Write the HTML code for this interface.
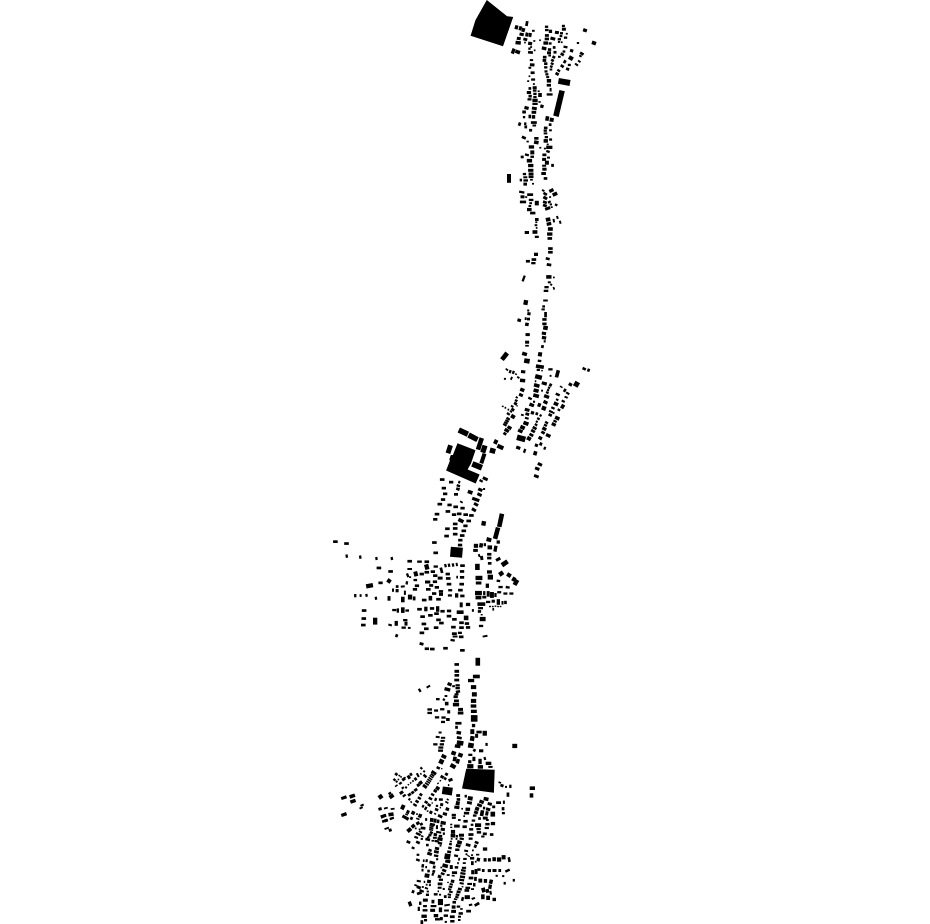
<!DOCTYPE html>
<html><head><meta charset="utf-8"><title>Map</title>
<style>html,body{margin:0;padding:0;background:#fff;font-family:"Liberation Sans",sans-serif}svg{display:block}</style></head>
<body><svg width="930" height="924" viewBox="0 0 930 924" fill="#000">
<polygon points="486.8,0.0 507.1,16.2 513.2,17.0 503.0,46.3 470.6,35.7 475.4,20.3"/>
<polygon points="457.5,443.2 475.5,450.3 470.9,463.7 468.8,467.2 467.7,469.5 479.6,474.5 475.7,483.6 446.1,470.6 449.9,460.7 449.3,459.4 450.8,454.9 452.9,454.9"/>
<polygon points="466.2,768.8 494.7,769.8 493.9,792.8 462.0,788.5"/>
<rect x="525.5" y="21.1" width="2.7" height="4.9" transform="rotate(10 526.9 23.5)"/>
<rect x="514.8" y="25.3" width="3.3" height="4.0" transform="rotate(15 516.5 27.3)"/>
<rect x="518.9" y="26.4" width="3.0" height="4.0" transform="rotate(15 520.4 28.4)"/>
<rect x="521.7" y="28.0" width="3.3" height="4.0" transform="rotate(15 523.3 30.0)"/>
<rect x="532.0" y="29.8" width="2.7" height="2.0"/>
<rect x="519.5" y="32.9" width="4.3" height="3.0" transform="rotate(10 521.7 34.4)"/>
<rect x="525.4" y="32.6" width="3.0" height="4.0" transform="rotate(10 526.9 34.6)"/>
<rect x="528.6" y="32.9" width="3.0" height="4.0" transform="rotate(10 530.1 34.9)"/>
<rect x="516.8" y="37.0" width="4.0" height="3.0" transform="rotate(10 518.8 38.5)"/>
<rect x="523.3" y="37.9" width="4.0" height="3.0" transform="rotate(15 525.3 39.4)"/>
<rect x="515.5" y="41.0" width="5.3" height="3.6" transform="rotate(5 518.1 42.9)"/>
<rect x="524.1" y="41.7" width="1.7" height="1.7"/>
<rect x="528.1" y="41.8" width="4.0" height="3.3" transform="rotate(10 530.1 43.5)"/>
<rect x="533.3" y="40.1" width="2.0" height="1.7"/>
<rect x="539.2" y="39.4" width="1.7" height="1.7"/>
<rect x="530.1" y="46.2" width="2.0" height="1.7"/>
<rect x="511.6" y="48.5" width="3.3" height="5.3" transform="rotate(20 513.2 51.1)"/>
<rect x="515.2" y="50.1" width="4.9" height="3.6" transform="rotate(20 517.6 51.9)"/>
<rect x="528.3" y="47.5" width="2.3" height="2.3"/>
<rect x="528.0" y="51.1" width="4.9" height="2.7" transform="rotate(5 530.5 52.4)"/>
<rect x="533.8" y="49.5" width="1.7" height="1.7"/>
<rect x="529.8" y="59.1" width="3.3" height="2.0"/>
<rect x="529.9" y="63.4" width="4.6" height="3.0" transform="rotate(5 532.2 64.9)"/>
<rect x="528.5" y="66.8" width="2.7" height="2.0"/>
<rect x="530.6" y="71.4" width="4.0" height="2.7"/>
<rect x="528.6" y="75.4" width="1.7" height="1.7"/>
<rect x="531.1" y="78.4" width="4.0" height="2.3"/>
<rect x="527.2" y="80.3" width="2.0" height="1.7"/>
<rect x="532.9" y="83.2" width="2.0" height="1.7"/>
<rect x="544.9" y="25.6" width="3.3" height="2.3"/>
<rect x="545.0" y="28.9" width="3.6" height="2.3"/>
<rect x="548.8" y="29.7" width="3.3" height="3.3"/>
<rect x="544.9" y="34.1" width="4.0" height="2.7"/>
<rect x="544.7" y="37.6" width="4.3" height="2.7"/>
<rect x="550.4" y="37.0" width="4.9" height="3.3" transform="rotate(15 552.9 38.6)"/>
<rect x="543.4" y="41.4" width="4.6" height="3.3"/>
<rect x="548.6" y="42.3" width="3.0" height="2.3"/>
<rect x="541.8" y="46.7" width="4.6" height="3.3" transform="rotate(10 544.1 48.4)"/>
<rect x="547.9" y="48.2" width="3.3" height="2.7"/>
<rect x="552.8" y="46.1" width="2.7" height="2.7"/>
<rect x="547.0" y="51.3" width="4.0" height="3.0"/>
<rect x="553.5" y="50.9" width="3.0" height="2.7"/>
<rect x="548.3" y="54.5" width="2.7" height="2.0"/>
<rect x="542.9" y="55.8" width="3.6" height="2.7"/>
<rect x="542.6" y="58.9" width="3.6" height="3.0"/>
<rect x="544.1" y="62.3" width="3.3" height="2.7"/>
<rect x="552.3" y="55.8" width="3.0" height="2.7" transform="rotate(30 553.8 57.1)"/>
<rect x="551.0" y="59.1" width="3.0" height="2.7" transform="rotate(30 552.5 60.4)"/>
<rect x="550.7" y="62.5" width="3.0" height="2.3" transform="rotate(30 552.2 63.6)"/>
<rect x="549.9" y="65.4" width="2.7" height="2.3" transform="rotate(30 551.2 66.6)"/>
<rect x="549.6" y="68.5" width="2.7" height="2.0"/>
<rect x="544.1" y="66.2" width="3.3" height="2.3"/>
<rect x="544.5" y="70.3" width="3.0" height="2.3"/>
<rect x="545.4" y="73.2" width="3.0" height="2.3"/>
<rect x="546.2" y="76.1" width="3.0" height="2.0"/>
<rect x="546.8" y="79.0" width="4.3" height="3.6"/>
<rect x="546.7" y="83.9" width="4.3" height="2.7"/>
<rect x="549.6" y="87.9" width="2.0" height="3.6"/>
<rect x="546.7" y="93.3" width="5.9" height="2.3"/>
<rect x="561.9" y="24.8" width="3.0" height="2.3"/>
<rect x="561.9" y="27.7" width="4.0" height="3.0"/>
<rect x="554.9" y="31.0" width="4.0" height="3.0" transform="rotate(10 556.9 32.5)"/>
<rect x="560.0" y="32.1" width="3.0" height="2.3"/>
<rect x="565.8" y="32.9" width="2.0" height="1.7"/>
<rect x="559.6" y="34.9" width="2.7" height="2.3"/>
<rect x="563.9" y="36.5" width="3.3" height="2.3"/>
<rect x="557.7" y="38.1" width="3.3" height="2.3"/>
<rect x="557.9" y="40.9" width="2.3" height="2.0"/>
<rect x="560.9" y="41.4" width="1.7" height="1.7"/>
<rect x="563.5" y="45.9" width="4.0" height="2.3" transform="rotate(10 565.5 47.1)"/>
<rect x="570.0" y="49.2" width="3.3" height="3.0" transform="rotate(20 571.7 50.6)"/>
<rect x="562.6" y="50.4" width="2.7" height="2.3"/>
<rect x="560.4" y="53.0" width="3.6" height="2.7" transform="rotate(30 562.3 54.4)"/>
<rect x="558.0" y="55.8" width="2.7" height="2.0"/>
<rect x="568.6" y="56.1" width="4.6" height="4.0" transform="rotate(30 570.9 58.1)"/>
<rect x="563.4" y="60.0" width="2.7" height="3.3" transform="rotate(30 564.7 61.7)"/>
<rect x="560.4" y="64.9" width="3.6" height="2.7" transform="rotate(35 562.3 66.2)"/>
<rect x="567.8" y="63.8" width="3.0" height="2.3"/>
<rect x="566.0" y="67.7" width="3.3" height="2.7" transform="rotate(20 567.6 69.0)"/>
<rect x="557.0" y="69.4" width="3.3" height="2.3" transform="rotate(35 558.7 70.6)"/>
<rect x="555.3" y="72.5" width="3.6" height="2.7" transform="rotate(30 557.1 73.9)"/>
<rect x="583.0" y="28.7" width="4.0" height="3.3" transform="rotate(20 585.0 30.4)"/>
<rect x="591.8" y="41.2" width="4.3" height="3.6" transform="rotate(20 593.9 43.0)"/>
<rect x="576.8" y="42.0" width="2.3" height="2.0"/>
<rect x="579.8" y="52.2" width="4.0" height="2.7" transform="rotate(30 581.8 53.6)"/>
<rect x="579.1" y="55.0" width="2.7" height="2.0" transform="rotate(30 580.5 56.0)"/>
<rect x="577.8" y="60.4" width="3.0" height="2.0" transform="rotate(35 579.3 61.4)"/>
<rect x="574.7" y="63.6" width="3.6" height="2.0" transform="rotate(35 576.6 64.6)"/>
<rect x="558.3" y="79.0" width="11.8" height="5.9" transform="rotate(10 564.2 82.0)"/>
<rect x="556.2" y="90.2" width="5.6" height="26.4" transform="rotate(13.5 559.0 103.4)"/>
<rect x="528.5" y="87.1" width="2.7" height="2.7"/>
<rect x="532.7" y="86.2" width="4.0" height="3.0"/>
<rect x="532.9" y="89.4" width="3.6" height="2.3"/>
<rect x="537.7" y="90.4" width="2.0" height="1.7"/>
<rect x="526.8" y="91.0" width="4.3" height="3.0"/>
<rect x="533.3" y="92.7" width="3.3" height="2.3"/>
<rect x="538.2" y="93.0" width="3.6" height="4.0"/>
<rect x="528.5" y="94.8" width="3.3" height="2.7"/>
<rect x="527.5" y="98.2" width="4.0" height="2.3"/>
<rect x="533.3" y="95.9" width="3.3" height="2.3"/>
<rect x="532.4" y="98.7" width="5.3" height="3.3"/>
<rect x="538.4" y="101.1" width="2.3" height="1.7"/>
<rect x="532.4" y="102.7" width="5.3" height="2.3"/>
<rect x="540.3" y="104.7" width="3.3" height="3.3" transform="rotate(15 542.0 106.3)"/>
<rect x="524.4" y="106.3" width="4.3" height="3.3" transform="rotate(15 526.6 108.0)"/>
<rect x="531.9" y="106.9" width="4.9" height="3.0" transform="rotate(10 534.4 108.4)"/>
<rect x="522.3" y="110.5" width="3.6" height="3.0"/>
<rect x="531.6" y="110.8" width="4.6" height="3.0"/>
<rect x="522.9" y="116.0" width="2.3" height="2.3"/>
<rect x="528.5" y="114.7" width="2.7" height="3.6"/>
<rect x="531.9" y="115.1" width="3.3" height="3.6"/>
<rect x="518.2" y="122.5" width="2.7" height="3.3" transform="rotate(20 519.6 124.2)"/>
<rect x="524.1" y="122.4" width="2.3" height="2.7"/>
<rect x="524.4" y="125.4" width="2.7" height="3.0"/>
<rect x="530.9" y="121.2" width="5.9" height="2.7"/>
<rect x="532.5" y="124.5" width="3.6" height="2.0"/>
<rect x="529.1" y="128.9" width="3.0" height="2.7"/>
<rect x="521.7" y="136.2" width="4.3" height="2.7" transform="rotate(25 523.8 137.5)"/>
<rect x="526.5" y="140.7" width="2.3" height="1.7"/>
<rect x="534.2" y="137.0" width="4.3" height="2.7"/>
<rect x="534.0" y="140.5" width="4.6" height="3.6" transform="rotate(10 536.3 142.4)"/>
<rect x="528.8" y="145.3" width="5.3" height="3.3"/>
<rect x="539.3" y="146.9" width="2.0" height="1.7"/>
<rect x="545.4" y="116.2" width="3.6" height="4.6" transform="rotate(10 547.2 118.5)"/>
<rect x="549.7" y="117.8" width="4.0" height="4.0" transform="rotate(10 551.7 119.8)"/>
<rect x="548.8" y="123.3" width="2.7" height="2.7"/>
<rect x="543.9" y="126.6" width="3.6" height="2.7"/>
<rect x="543.6" y="129.5" width="3.3" height="2.3"/>
<rect x="549.1" y="129.3" width="2.7" height="2.0"/>
<rect x="543.7" y="132.4" width="3.6" height="2.0"/>
<rect x="544.7" y="136.0" width="3.3" height="2.3"/>
<rect x="543.6" y="139.1" width="4.3" height="3.6"/>
<rect x="549.1" y="138.4" width="3.0" height="2.3"/>
<rect x="546.7" y="143.6" width="2.0" height="1.7"/>
<rect x="546.2" y="145.7" width="6.2" height="3.3"/>
<rect x="543.9" y="147.7" width="2.0" height="1.7"/>
<rect x="530.3" y="150.4" width="4.0" height="4.0"/>
<rect x="530.4" y="155.6" width="3.6" height="2.3"/>
<rect x="524.9" y="153.7" width="4.0" height="2.3" transform="rotate(15 526.9 154.9)"/>
<rect x="520.7" y="155.6" width="3.0" height="2.7"/>
<rect x="526.8" y="158.9" width="5.3" height="3.6"/>
<rect x="528.1" y="163.9" width="5.3" height="3.3"/>
<rect x="528.1" y="168.8" width="5.3" height="3.0"/>
<rect x="528.6" y="172.5" width="4.9" height="2.7"/>
<rect x="528.6" y="175.4" width="4.9" height="2.7"/>
<rect x="530.1" y="178.9" width="2.7" height="1.7"/>
<rect x="522.8" y="172.9" width="3.3" height="2.3"/>
<rect x="519.7" y="178.7" width="2.3" height="2.7"/>
<rect x="523.3" y="176.3" width="4.0" height="2.0"/>
<rect x="523.4" y="179.3" width="4.6" height="2.3"/>
<rect x="523.4" y="182.6" width="3.6" height="3.0"/>
<rect x="532.0" y="182.9" width="2.0" height="1.7"/>
<rect x="507.0" y="174.0" width="4.0" height="8.8"/>
<rect x="546.2" y="150.4" width="3.6" height="2.3" transform="rotate(20 548.0 151.6)"/>
<rect x="542.4" y="153.5" width="4.0" height="2.7"/>
<rect x="547.0" y="156.6" width="3.0" height="2.0"/>
<rect x="542.1" y="157.9" width="4.0" height="3.0"/>
<rect x="544.9" y="160.7" width="4.0" height="4.0"/>
<rect x="542.1" y="164.7" width="4.0" height="2.0"/>
<rect x="551.2" y="163.9" width="2.7" height="3.0"/>
<rect x="542.3" y="167.7" width="4.3" height="3.0"/>
<rect x="541.3" y="172.0" width="4.6" height="3.0"/>
<rect x="543.7" y="177.1" width="3.6" height="2.7"/>
<rect x="519.1" y="191.0" width="5.3" height="2.3" transform="rotate(10 521.7 192.2)"/>
<rect x="527.2" y="193.3" width="5.9" height="2.7"/>
<rect x="520.5" y="195.3" width="4.0" height="3.0"/>
<rect x="525.2" y="196.2" width="2.0" height="1.7"/>
<rect x="519.9" y="200.6" width="6.2" height="2.7"/>
<rect x="528.8" y="198.8" width="4.6" height="2.3"/>
<rect x="529.3" y="202.2" width="2.7" height="2.0"/>
<rect x="534.8" y="200.8" width="4.0" height="4.6"/>
<rect x="528.5" y="205.0" width="2.7" height="2.0"/>
<rect x="527.0" y="207.9" width="4.6" height="3.3"/>
<rect x="530.1" y="211.7" width="5.3" height="2.7"/>
<rect x="541.9" y="189.6" width="2.7" height="2.0" transform="rotate(30 543.3 190.6)"/>
<rect x="549.1" y="188.9" width="4.6" height="3.3" transform="rotate(-25 551.4 190.6)"/>
<rect x="552.5" y="192.3" width="4.9" height="3.6" transform="rotate(-25 555.0 194.2)"/>
<rect x="543.2" y="192.5" width="4.0" height="2.7" transform="rotate(30 545.2 193.8)"/>
<rect x="543.1" y="196.4" width="4.3" height="3.0" transform="rotate(30 545.2 197.9)"/>
<rect x="549.1" y="196.2" width="2.0" height="1.7"/>
<rect x="542.9" y="200.9" width="4.0" height="2.7" transform="rotate(20 544.9 202.3)"/>
<rect x="547.8" y="200.8" width="3.0" height="2.3" transform="rotate(-30 549.3 201.9)"/>
<rect x="542.9" y="204.2" width="4.0" height="2.7" transform="rotate(20 544.9 205.5)"/>
<rect x="549.7" y="203.4" width="2.3" height="2.0"/>
<rect x="554.8" y="203.7" width="2.7" height="2.3" transform="rotate(30 556.1 204.9)"/>
<rect x="545.0" y="206.9" width="5.3" height="3.0" transform="rotate(-20 547.7 208.4)"/>
<rect x="550.7" y="206.3" width="2.0" height="1.7"/>
<rect x="535.0" y="218.0" width="3.6" height="3.0"/>
<rect x="535.3" y="221.4" width="2.0" height="1.7"/>
<rect x="534.6" y="224.2" width="2.7" height="2.0"/>
<rect x="535.8" y="227.1" width="1.7" height="1.7"/>
<rect x="524.7" y="231.0" width="4.3" height="3.0"/>
<rect x="532.5" y="230.2" width="4.9" height="3.6"/>
<rect x="534.8" y="235.7" width="4.0" height="2.3"/>
<rect x="545.8" y="217.5" width="4.6" height="4.0" transform="rotate(-10 548.1 219.5)"/>
<rect x="546.7" y="222.2" width="4.6" height="3.3" transform="rotate(-10 549.0 223.9)"/>
<rect x="552.8" y="218.8" width="2.0" height="3.6" transform="rotate(-10 553.8 220.6)"/>
<rect x="556.4" y="215.9" width="2.0" height="3.0" transform="rotate(-20 557.4 217.4)"/>
<rect x="559.2" y="220.6" width="2.0" height="3.3" transform="rotate(-15 560.2 222.2)"/>
<rect x="547.9" y="227.2" width="4.9" height="3.6"/>
<rect x="547.1" y="232.4" width="5.3" height="3.3"/>
<rect x="547.5" y="237.1" width="4.6" height="2.7"/>
<rect x="548.1" y="247.2" width="4.6" height="2.7"/>
<rect x="548.1" y="250.9" width="4.6" height="2.7"/>
<rect x="534.0" y="252.7" width="4.0" height="3.3"/>
<rect x="531.6" y="258.2" width="4.6" height="2.7"/>
<rect x="525.9" y="259.9" width="4.0" height="2.7"/>
<rect x="531.2" y="262.0" width="4.3" height="2.3"/>
<rect x="545.7" y="257.4" width="4.0" height="2.7" transform="rotate(15 547.7 258.8)"/>
<rect x="546.7" y="263.4" width="4.6" height="2.7" transform="rotate(10 549.0 264.8)"/>
<rect x="522.5" y="275.4" width="2.3" height="6.2" transform="rotate(20 523.6 278.6)"/>
<rect x="546.2" y="275.1" width="5.3" height="3.6"/>
<rect x="553.0" y="276.6" width="1.7" height="1.7"/>
<rect x="547.8" y="281.3" width="3.0" height="2.0"/>
<rect x="550.2" y="283.7" width="2.0" height="2.0" transform="rotate(30 551.2 284.7)"/>
<rect x="553.0" y="287.0" width="1.7" height="2.7" transform="rotate(-20 553.8 288.3)"/>
<rect x="544.4" y="286.0" width="4.3" height="2.3"/>
<rect x="543.7" y="289.7" width="4.6" height="2.3"/>
<rect x="523.6" y="300.0" width="4.3" height="4.9" transform="rotate(10 525.7 302.4)"/>
<rect x="543.2" y="299.5" width="4.6" height="2.0"/>
<rect x="542.3" y="305.3" width="2.7" height="2.3"/>
<rect x="541.5" y="308.4" width="3.3" height="2.0"/>
<rect x="527.2" y="309.5" width="2.0" height="2.0"/>
<rect x="527.3" y="312.3" width="3.3" height="3.0" transform="rotate(10 529.0 313.8)"/>
<rect x="544.2" y="312.0" width="2.7" height="5.3"/>
<rect x="517.4" y="318.8" width="3.6" height="3.0" transform="rotate(15 519.3 320.3)"/>
<rect x="524.7" y="317.3" width="2.0" height="2.7"/>
<rect x="527.0" y="317.7" width="3.0" height="2.7"/>
<rect x="525.1" y="322.7" width="3.6" height="3.3" transform="rotate(10 526.9 324.4)"/>
<rect x="542.3" y="318.1" width="4.3" height="2.7"/>
<rect x="542.3" y="322.5" width="4.3" height="2.7"/>
<rect x="543.2" y="325.9" width="4.6" height="4.0" transform="rotate(10 545.6 327.9)"/>
<rect x="525.5" y="333.1" width="4.3" height="3.0"/>
<rect x="541.8" y="331.8" width="4.3" height="3.0" transform="rotate(10 543.9 333.3)"/>
<rect x="541.9" y="336.0" width="4.3" height="3.3" transform="rotate(10 544.1 337.7)"/>
<rect x="543.7" y="340.2" width="2.0" height="2.3"/>
<rect x="525.1" y="340.7" width="4.0" height="3.0"/>
<rect x="525.2" y="344.9" width="3.6" height="1.7"/>
<rect x="541.1" y="345.1" width="2.7" height="3.0" transform="rotate(10 542.5 346.6)"/>
<rect x="502.3" y="352.1" width="4.6" height="8.5" transform="rotate(38 504.6 356.3)"/>
<rect x="522.1" y="352.2" width="4.9" height="3.6" transform="rotate(15 524.6 354.1)"/>
<rect x="524.1" y="358.6" width="5.6" height="4.6" transform="rotate(10 526.9 360.9)"/>
<rect x="538.0" y="352.2" width="4.0" height="4.3" transform="rotate(10 540.0 354.4)"/>
<rect x="537.7" y="359.7" width="3.6" height="2.3" transform="rotate(10 539.5 360.9)"/>
<rect x="439.9" y="478.2" width="4.6" height="2.7"/>
<rect x="449.0" y="480.8" width="4.3" height="2.7"/>
<rect x="458.2" y="480.8" width="2.0" height="2.7" transform="rotate(20 459.3 482.2)"/>
<rect x="456.6" y="484.6" width="3.6" height="2.3" transform="rotate(20 458.4 485.7)"/>
<rect x="456.1" y="487.7" width="3.6" height="2.7" transform="rotate(20 458.0 489.0)"/>
<rect x="441.7" y="486.8" width="4.3" height="2.7"/>
<rect x="443.0" y="492.5" width="4.3" height="2.7"/>
<rect x="454.0" y="493.0" width="4.0" height="2.7"/>
<rect x="467.7" y="490.4" width="4.9" height="3.6" transform="rotate(20 470.1 492.2)"/>
<rect x="440.9" y="498.2" width="4.3" height="2.7"/>
<rect x="437.5" y="502.8" width="4.6" height="2.7"/>
<rect x="447.4" y="503.6" width="4.3" height="2.7"/>
<rect x="453.4" y="505.5" width="4.6" height="2.7"/>
<rect x="460.4" y="506.8" width="4.3" height="2.7"/>
<rect x="459.9" y="501.1" width="3.0" height="1.7" transform="rotate(30 461.4 502.0)"/>
<rect x="482.6" y="477.3" width="5.3" height="3.0" transform="rotate(25 485.2 478.8)"/>
<rect x="479.3" y="479.7" width="3.6" height="2.3" transform="rotate(30 481.2 480.9)"/>
<rect x="478.0" y="488.3" width="4.6" height="3.0" transform="rotate(25 480.4 489.8)"/>
<rect x="483.1" y="488.0" width="2.0" height="2.0"/>
<rect x="477.2" y="493.2" width="4.6" height="3.0" transform="rotate(25 479.5 494.7)"/>
<rect x="472.0" y="497.9" width="7.5" height="3.3" transform="rotate(20 475.8 499.5)"/>
<rect x="473.7" y="502.9" width="4.6" height="3.0" transform="rotate(30 476.0 504.4)"/>
<rect x="471.6" y="508.3" width="4.6" height="3.0" transform="rotate(30 473.9 509.8)"/>
<rect x="445.6" y="510.1" width="4.6" height="2.7"/>
<rect x="451.9" y="513.3" width="4.3" height="2.7"/>
<rect x="456.9" y="512.5" width="4.6" height="2.7"/>
<rect x="463.4" y="513.3" width="4.6" height="2.7"/>
<rect x="469.1" y="514.1" width="4.6" height="2.7"/>
<rect x="434.7" y="512.8" width="4.6" height="2.7"/>
<rect x="433.1" y="518.0" width="4.3" height="2.7"/>
<rect x="458.1" y="518.8" width="5.6" height="3.6" transform="rotate(25 460.9 520.6)"/>
<rect x="466.4" y="519.6" width="4.6" height="2.7"/>
<rect x="452.9" y="522.6" width="4.6" height="2.7"/>
<rect x="463.3" y="524.5" width="4.3" height="2.7"/>
<rect x="452.9" y="527.1" width="4.6" height="2.7"/>
<rect x="461.5" y="529.5" width="4.6" height="2.7"/>
<rect x="445.1" y="527.4" width="4.6" height="2.7"/>
<rect x="452.9" y="532.8" width="4.6" height="2.7"/>
<rect x="459.9" y="534.2" width="4.6" height="2.7"/>
<rect x="444.3" y="534.7" width="4.6" height="2.7"/>
<rect x="458.2" y="538.8" width="4.3" height="2.7"/>
<rect x="457.9" y="543.7" width="4.3" height="2.7"/>
<rect x="432.1" y="541.2" width="4.6" height="2.7"/>
<rect x="433.4" y="551.5" width="4.6" height="2.7"/>
<rect x="481.5" y="521.1" width="4.3" height="4.6" transform="rotate(10 483.6 523.4)"/>
<rect x="498.3" y="513.6" width="4.6" height="13.4" transform="rotate(12 500.6 520.3)"/>
<rect x="494.3" y="527.3" width="4.6" height="11.8" transform="rotate(15 496.6 533.1)"/>
<rect x="450.4" y="547.2" width="12.1" height="10.1" transform="rotate(5 456.5 552.3)"/>
<rect x="486.5" y="537.7" width="4.9" height="4.0" transform="rotate(15 489.0 539.6)"/>
<rect x="496.6" y="540.4" width="3.3" height="3.3"/>
<rect x="473.8" y="543.8" width="4.3" height="4.0"/>
<rect x="479.3" y="543.2" width="3.6" height="4.3" transform="rotate(10 481.2 545.3)"/>
<rect x="483.7" y="543.2" width="2.3" height="3.0"/>
<rect x="487.5" y="545.4" width="4.6" height="4.0"/>
<rect x="493.8" y="545.8" width="3.3" height="5.9" transform="rotate(10 495.5 548.7)"/>
<rect x="473.2" y="548.9" width="4.6" height="3.0"/>
<rect x="487.1" y="552.9" width="4.3" height="2.7"/>
<rect x="478.2" y="554.1" width="2.0" height="3.0" transform="rotate(-20 479.2 555.6)"/>
<rect x="480.2" y="556.0" width="3.0" height="4.0" transform="rotate(-10 481.7 558.0)"/>
<rect x="487.1" y="556.7" width="4.3" height="2.7"/>
<rect x="495.7" y="557.8" width="4.9" height="3.0" transform="rotate(-30 498.2 559.3)"/>
<rect x="501.3" y="561.0" width="6.9" height="4.6" transform="rotate(-35 504.7 563.3)"/>
<rect x="487.9" y="562.0" width="3.6" height="2.7"/>
<rect x="475.1" y="563.8" width="4.6" height="6.2"/>
<rect x="407.4" y="559.9" width="4.6" height="2.7"/>
<rect x="417.2" y="560.5" width="4.6" height="2.3"/>
<rect x="424.5" y="560.4" width="4.6" height="2.7"/>
<rect x="424.6" y="564.3" width="4.3" height="5.3" transform="rotate(-15 426.8 566.9)"/>
<rect x="433.6" y="565.4" width="4.3" height="2.3"/>
<rect x="407.4" y="568.0" width="4.6" height="2.0"/>
<rect x="444.3" y="564.0" width="2.3" height="3.3" transform="rotate(-15 445.5 565.6)"/>
<rect x="447.9" y="563.6" width="2.3" height="3.3" transform="rotate(-10 449.0 565.3)"/>
<rect x="451.9" y="563.3" width="2.3" height="3.3" transform="rotate(-10 453.1 565.0)"/>
<rect x="455.8" y="562.8" width="2.0" height="3.3" transform="rotate(-10 456.8 564.5)"/>
<rect x="460.2" y="564.3" width="4.6" height="2.7"/>
<rect x="523.5" y="448.9" width="2.3" height="4.0" transform="rotate(20 524.7 450.8)"/>
<rect x="533.4" y="451.1" width="3.6" height="4.3" transform="rotate(15 535.2 453.3)"/>
<rect x="537.6" y="462.8" width="4.6" height="3.0" transform="rotate(25 539.9 464.3)"/>
<rect x="534.9" y="467.2" width="4.6" height="3.0" transform="rotate(20 537.2 468.7)"/>
<rect x="533.9" y="474.8" width="4.9" height="3.0" transform="rotate(20 536.4 476.3)"/>
<rect x="333.1" y="540.3" width="4.6" height="2.7"/>
<rect x="344.2" y="542.2" width="4.6" height="2.7"/>
<rect x="345.6" y="554.5" width="2.3" height="3.3" transform="rotate(-10 346.8 556.2)"/>
<rect x="359.1" y="555.4" width="2.3" height="3.3" transform="rotate(-10 360.3 557.0)"/>
<rect x="375.3" y="557.0" width="2.3" height="3.0" transform="rotate(-10 376.5 558.5)"/>
<rect x="390.7" y="557.0" width="2.3" height="3.0" transform="rotate(-10 391.9 558.5)"/>
<rect x="376.6" y="566.6" width="4.6" height="2.7"/>
<rect x="388.3" y="570.1" width="4.6" height="2.7"/>
<rect x="366.1" y="583.6" width="6.9" height="4.3" transform="rotate(-10 369.5 585.7)"/>
<rect x="378.4" y="581.5" width="4.3" height="2.7"/>
<rect x="387.0" y="578.9" width="4.0" height="4.0" transform="rotate(35 389.0 580.9)"/>
<rect x="354.1" y="594.0" width="2.3" height="3.3"/>
<rect x="359.6" y="594.2" width="2.0" height="2.7"/>
<rect x="365.4" y="593.8" width="2.3" height="3.0" transform="rotate(-10 366.6 595.3)"/>
<rect x="374.8" y="596.7" width="2.3" height="3.0" transform="rotate(-10 376.0 598.2)"/>
<rect x="387.5" y="596.1" width="3.0" height="4.6"/>
<rect x="361.8" y="609.2" width="4.6" height="2.7"/>
<rect x="361.5" y="617.2" width="4.6" height="2.7"/>
<rect x="361.0" y="623.7" width="4.6" height="2.7"/>
<rect x="373.0" y="617.7" width="4.3" height="6.9"/>
<rect x="388.3" y="624.0" width="3.6" height="2.0" transform="rotate(15 390.1 625.0)"/>
<rect x="394.6" y="620.9" width="3.3" height="4.9"/>
<rect x="395.3" y="634.2" width="2.7" height="3.0" transform="rotate(20 396.6 635.7)"/>
<rect x="406.5" y="573.2" width="2.3" height="4.0" transform="rotate(-20 407.7 575.2)"/>
<rect x="409.1" y="576.3" width="2.0" height="1.7"/>
<rect x="413.8" y="571.4" width="4.0" height="4.9" transform="rotate(-15 415.8 573.9)"/>
<rect x="419.6" y="572.7" width="4.3" height="2.7"/>
<rect x="413.5" y="578.9" width="3.6" height="2.3"/>
<rect x="405.7" y="581.2" width="2.3" height="3.3" transform="rotate(10 406.9 582.8)"/>
<rect x="414.8" y="584.4" width="4.3" height="2.7"/>
<rect x="412.8" y="588.0" width="4.3" height="2.7"/>
<rect x="400.8" y="585.5" width="4.0" height="2.0" transform="rotate(-10 402.8 586.6)"/>
<rect x="395.8" y="585.2" width="2.7" height="2.7"/>
<rect x="392.0" y="588.5" width="2.0" height="3.3"/>
<rect x="395.6" y="589.0" width="3.0" height="3.3"/>
<rect x="403.9" y="590.6" width="2.0" height="4.3"/>
<rect x="407.9" y="594.6" width="4.3" height="4.9"/>
<rect x="412.8" y="596.4" width="2.7" height="4.0"/>
<rect x="401.0" y="596.7" width="3.6" height="5.6"/>
<rect x="392.2" y="608.9" width="4.3" height="2.3"/>
<rect x="396.7" y="608.4" width="2.3" height="4.3"/>
<rect x="401.0" y="607.3" width="3.6" height="5.6"/>
<rect x="405.4" y="609.4" width="3.6" height="2.3"/>
<rect x="403.1" y="619.0" width="4.3" height="2.3"/>
<rect x="404.5" y="621.6" width="3.0" height="4.0"/>
<rect x="401.5" y="626.5" width="4.3" height="2.3"/>
<rect x="407.9" y="626.9" width="2.7" height="2.0"/>
<rect x="440.1" y="567.5" width="2.7" height="5.6" transform="rotate(-15 441.4 570.3)"/>
<rect x="424.5" y="570.9" width="4.6" height="2.7"/>
<rect x="430.7" y="570.3" width="4.3" height="2.7"/>
<rect x="433.1" y="574.3" width="4.3" height="2.7"/>
<rect x="437.7" y="576.6" width="4.9" height="3.0"/>
<rect x="445.6" y="572.7" width="4.3" height="2.7"/>
<rect x="445.9" y="577.1" width="4.6" height="2.7"/>
<rect x="459.9" y="570.1" width="4.3" height="2.7"/>
<rect x="459.9" y="576.0" width="4.3" height="2.7"/>
<rect x="456.3" y="575.8" width="1.7" height="2.7"/>
<rect x="425.0" y="580.5" width="5.3" height="3.0"/>
<rect x="432.8" y="580.4" width="4.3" height="2.7"/>
<rect x="429.2" y="584.1" width="4.0" height="2.7"/>
<rect x="434.7" y="586.0" width="4.3" height="2.7"/>
<rect x="426.0" y="588.0" width="4.6" height="2.7"/>
<rect x="446.7" y="582.8" width="4.6" height="2.7"/>
<rect x="459.4" y="582.8" width="4.6" height="2.7"/>
<rect x="438.8" y="590.1" width="4.3" height="2.7"/>
<rect x="439.0" y="592.9" width="4.0" height="3.0"/>
<rect x="432.0" y="592.2" width="4.3" height="2.7"/>
<rect x="448.2" y="589.1" width="4.0" height="2.3"/>
<rect x="458.1" y="588.8" width="4.6" height="2.7"/>
<rect x="447.9" y="594.3" width="4.0" height="2.3"/>
<rect x="455.0" y="593.3" width="3.3" height="4.3"/>
<rect x="460.2" y="594.6" width="4.3" height="2.7"/>
<rect x="428.6" y="595.9" width="3.6" height="4.6"/>
<rect x="421.9" y="598.7" width="4.6" height="2.7"/>
<rect x="436.2" y="597.9" width="4.6" height="2.7"/>
<rect x="417.2" y="607.9" width="4.6" height="2.7"/>
<rect x="424.2" y="606.7" width="3.3" height="4.6"/>
<rect x="429.9" y="607.1" width="4.3" height="2.7"/>
<rect x="436.0" y="606.2" width="3.3" height="5.6"/>
<rect x="440.4" y="609.9" width="4.3" height="2.7"/>
<rect x="434.2" y="612.3" width="4.6" height="2.7"/>
<rect x="446.9" y="609.6" width="4.3" height="2.7"/>
<rect x="420.3" y="615.3" width="4.6" height="2.7"/>
<rect x="428.1" y="614.0" width="4.6" height="2.7"/>
<rect x="446.7" y="614.8" width="4.6" height="2.7"/>
<rect x="436.2" y="618.5" width="4.6" height="2.7"/>
<rect x="452.1" y="618.0" width="4.6" height="2.7"/>
<rect x="439.1" y="621.7" width="4.6" height="2.7"/>
<rect x="421.6" y="622.6" width="4.6" height="2.7"/>
<rect x="424.0" y="627.4" width="4.6" height="2.7"/>
<rect x="433.8" y="626.3" width="4.6" height="2.7"/>
<rect x="419.6" y="631.5" width="4.6" height="2.7"/>
<rect x="459.7" y="602.4" width="3.0" height="4.9"/>
<rect x="465.9" y="602.8" width="4.3" height="3.3"/>
<rect x="456.7" y="610.4" width="6.9" height="3.6"/>
<rect x="463.8" y="615.6" width="4.6" height="4.6"/>
<rect x="459.2" y="621.4" width="4.6" height="2.7"/>
<rect x="464.8" y="622.2" width="4.3" height="2.7"/>
<rect x="451.1" y="625.8" width="4.6" height="2.7"/>
<rect x="459.2" y="626.3" width="4.6" height="2.7"/>
<rect x="465.9" y="626.1" width="4.3" height="2.7"/>
<rect x="451.9" y="632.3" width="4.9" height="2.7"/>
<rect x="457.9" y="631.7" width="4.0" height="2.3"/>
<rect x="452.6" y="635.5" width="4.9" height="2.0"/>
<rect x="458.9" y="635.5" width="4.6" height="2.7"/>
<rect x="450.5" y="639.0" width="4.3" height="2.3" transform="rotate(10 452.6 640.1)"/>
<rect x="419.5" y="642.5" width="4.0" height="2.7" transform="rotate(15 421.5 643.9)"/>
<rect x="424.7" y="647.4" width="4.3" height="2.7"/>
<rect x="430.0" y="647.7" width="4.6" height="2.7"/>
<rect x="443.2" y="646.9" width="4.6" height="2.7"/>
<rect x="460.1" y="649.0" width="4.6" height="2.7"/>
<rect x="454.4" y="663.1" width="4.6" height="2.7"/>
<rect x="487.0" y="570.3" width="4.9" height="3.3"/>
<rect x="487.7" y="574.7" width="5.3" height="4.9"/>
<rect x="498.9" y="571.4" width="4.6" height="4.3" transform="rotate(-35 501.2 573.6)"/>
<rect x="506.8" y="573.2" width="4.3" height="4.0" transform="rotate(30 509.0 575.2)"/>
<rect x="512.0" y="577.1" width="3.6" height="4.3" transform="rotate(30 513.8 579.3)"/>
<rect x="513.8" y="579.5" width="4.3" height="5.9" transform="rotate(30 515.9 582.5)"/>
<rect x="475.5" y="575.8" width="6.9" height="4.3"/>
<rect x="475.8" y="581.5" width="5.6" height="3.0"/>
<rect x="496.6" y="579.7" width="3.6" height="2.3" transform="rotate(10 498.4 580.9)"/>
<rect x="485.7" y="583.6" width="3.3" height="4.3"/>
<rect x="498.4" y="585.9" width="4.3" height="2.3"/>
<rect x="505.7" y="586.2" width="4.0" height="2.3" transform="rotate(10 507.7 587.4)"/>
<rect x="475.0" y="590.9" width="6.9" height="4.3"/>
<rect x="483.1" y="591.1" width="2.3" height="4.0"/>
<rect x="486.7" y="591.1" width="3.0" height="5.6"/>
<rect x="489.9" y="592.0" width="4.0" height="5.9"/>
<rect x="494.3" y="593.0" width="2.3" height="4.0"/>
<rect x="497.2" y="591.1" width="4.0" height="2.3"/>
<rect x="503.4" y="592.4" width="4.0" height="2.3"/>
<rect x="509.4" y="592.4" width="4.0" height="2.3"/>
<rect x="475.5" y="595.8" width="5.9" height="3.6"/>
<rect x="482.3" y="595.8" width="4.0" height="2.7"/>
<rect x="477.4" y="602.3" width="7.9" height="3.6"/>
<rect x="486.0" y="600.8" width="4.3" height="2.3"/>
<rect x="491.6" y="599.7" width="3.3" height="3.0"/>
<rect x="496.7" y="599.2" width="3.3" height="5.6"/>
<rect x="501.5" y="601.0" width="2.0" height="3.6"/>
<rect x="504.1" y="600.8" width="2.7" height="3.3"/>
<rect x="489.0" y="605.8" width="2.0" height="1.4"/>
<rect x="491.9" y="605.8" width="1.7" height="1.4"/>
<rect x="494.6" y="605.5" width="1.7" height="1.4"/>
<rect x="497.2" y="605.8" width="1.7" height="1.4"/>
<rect x="499.7" y="605.8" width="1.7" height="1.4"/>
<rect x="492.4" y="607.9" width="1.7" height="2.7"/>
<rect x="478.1" y="607.0" width="4.9" height="2.3"/>
<rect x="477.8" y="610.1" width="3.3" height="2.7"/>
<rect x="471.9" y="609.1" width="2.0" height="2.7"/>
<rect x="480.7" y="614.0" width="2.0" height="1.4"/>
<rect x="479.7" y="616.9" width="5.9" height="4.3"/>
<rect x="478.9" y="624.8" width="4.3" height="2.3"/>
<rect x="482.6" y="635.2" width="4.9" height="2.0" transform="rotate(-10 485.1 636.2)"/>
<rect x="475.5" y="657.8" width="4.6" height="7.9"/>
<rect x="454.5" y="669.8" width="4.6" height="3.0"/>
<rect x="454.5" y="674.0" width="4.6" height="2.7"/>
<rect x="454.3" y="678.7" width="4.9" height="2.7"/>
<rect x="447.4" y="682.6" width="4.3" height="3.3" transform="rotate(20 449.5 684.3)"/>
<rect x="452.2" y="685.2" width="2.7" height="2.0"/>
<rect x="455.5" y="684.2" width="4.3" height="2.3"/>
<rect x="444.4" y="687.8" width="5.9" height="3.3" transform="rotate(15 447.4 689.5)"/>
<rect x="455.5" y="687.0" width="4.3" height="2.3"/>
<rect x="455.8" y="690.3" width="4.3" height="2.7" transform="rotate(-10 458.0 691.6)"/>
<rect x="454.5" y="693.2" width="4.0" height="2.3" transform="rotate(-10 456.5 694.4)"/>
<rect x="453.5" y="695.4" width="4.3" height="2.7"/>
<rect x="454.0" y="699.5" width="4.9" height="2.7"/>
<rect x="452.9" y="702.8" width="6.2" height="3.6"/>
<rect x="444.6" y="695.0" width="2.7" height="2.0"/>
<rect x="442.7" y="698.5" width="2.3" height="2.3" transform="rotate(30 443.8 699.7)"/>
<rect x="436.0" y="698.0" width="3.6" height="2.3"/>
<rect x="444.9" y="701.8" width="3.6" height="3.6"/>
<rect x="458.1" y="707.9" width="4.9" height="3.0"/>
<rect x="457.8" y="711.5" width="5.6" height="3.0"/>
<rect x="427.4" y="708.3" width="4.6" height="2.3"/>
<rect x="427.4" y="711.8" width="4.6" height="2.3"/>
<rect x="434.1" y="709.4" width="4.0" height="2.3"/>
<rect x="440.1" y="708.1" width="4.3" height="2.3"/>
<rect x="447.2" y="710.2" width="3.0" height="3.3"/>
<rect x="434.9" y="716.2" width="4.3" height="2.3"/>
<rect x="441.4" y="716.4" width="4.3" height="2.3"/>
<rect x="446.1" y="718.0" width="3.6" height="3.0"/>
<rect x="441.0" y="720.8" width="4.0" height="2.3"/>
<rect x="455.3" y="721.9" width="6.2" height="2.7"/>
<rect x="455.2" y="725.8" width="2.7" height="3.0"/>
<rect x="456.5" y="731.2" width="4.6" height="3.3" transform="rotate(10 458.8 732.8)"/>
<rect x="456.8" y="736.5" width="4.9" height="2.7" transform="rotate(10 459.3 737.9)"/>
<rect x="456.8" y="740.7" width="6.6" height="4.6" transform="rotate(10 460.1 743.1)"/>
<rect x="454.8" y="744.6" width="5.6" height="3.3" transform="rotate(10 457.6 746.3)"/>
<rect x="438.6" y="731.5" width="3.0" height="2.0"/>
<rect x="435.7" y="736.0" width="4.0" height="2.0" transform="rotate(10 437.7 737.0)"/>
<rect x="440.9" y="736.8" width="4.3" height="2.0"/>
<rect x="440.4" y="739.9" width="4.3" height="2.0"/>
<rect x="433.2" y="743.2" width="4.3" height="2.3"/>
<rect x="439.7" y="743.2" width="4.3" height="2.3"/>
<rect x="438.4" y="746.4" width="4.9" height="2.3"/>
<rect x="438.1" y="749.5" width="4.9" height="2.3"/>
<rect x="451.3" y="751.1" width="4.6" height="4.0" transform="rotate(20 453.6 753.1)"/>
<rect x="458.1" y="753.2" width="4.6" height="4.0" transform="rotate(20 460.4 755.2)"/>
<rect x="452.9" y="756.7" width="3.6" height="4.6" transform="rotate(10 454.7 759.0)"/>
<rect x="441.4" y="754.7" width="4.9" height="3.6" transform="rotate(25 443.8 756.5)"/>
<rect x="472.9" y="674.7" width="6.9" height="3.6"/>
<rect x="468.0" y="678.9" width="6.2" height="3.3"/>
<rect x="470.9" y="685.1" width="5.3" height="4.0"/>
<rect x="471.9" y="692.2" width="4.9" height="4.3"/>
<rect x="470.9" y="698.9" width="5.3" height="4.0"/>
<rect x="470.7" y="704.4" width="5.6" height="3.3"/>
<rect x="470.9" y="709.7" width="5.9" height="3.3"/>
<rect x="470.9" y="715.1" width="6.6" height="6.6"/>
<rect x="471.9" y="723.9" width="3.3" height="3.3"/>
<rect x="470.3" y="729.2" width="4.0" height="4.9"/>
<rect x="476.4" y="730.7" width="5.3" height="2.7"/>
<rect x="482.6" y="730.8" width="4.3" height="4.9"/>
<rect x="475.1" y="733.8" width="3.0" height="4.0"/>
<rect x="470.1" y="736.2" width="4.3" height="4.6" transform="rotate(10 472.2 738.5)"/>
<rect x="468.1" y="743.0" width="5.6" height="4.9" transform="rotate(10 470.9 745.5)"/>
<rect x="485.4" y="742.9" width="2.3" height="3.0"/>
<rect x="473.0" y="749.0" width="2.7" height="2.7" transform="rotate(30 474.4 750.4)"/>
<rect x="479.0" y="749.3" width="4.3" height="3.0"/>
<rect x="468.3" y="753.7" width="4.0" height="2.3"/>
<rect x="472.4" y="756.8" width="3.0" height="4.3"/>
<rect x="483.7" y="757.0" width="2.3" height="3.0" transform="rotate(-15 484.9 758.5)"/>
<rect x="468.1" y="760.2" width="3.3" height="3.0"/>
<rect x="478.4" y="758.8" width="3.3" height="5.3"/>
<rect x="485.7" y="761.7" width="5.6" height="3.3"/>
<rect x="467.2" y="764.1" width="6.2" height="4.3"/>
<rect x="477.7" y="765.1" width="5.3" height="3.6"/>
<rect x="488.3" y="765.9" width="4.3" height="2.0"/>
<rect x="512.3" y="743.8" width="4.9" height="4.3"/>
<rect x="498.5" y="781.7" width="2.7" height="1.7" transform="rotate(20 499.8 782.5)"/>
<rect x="500.3" y="784.2" width="3.3" height="2.7" transform="rotate(20 501.9 785.6)"/>
<rect x="505.0" y="785.9" width="2.0" height="2.0"/>
<rect x="509.2" y="784.7" width="2.3" height="3.3"/>
<rect x="506.6" y="792.5" width="2.7" height="4.3"/>
<rect x="529.7" y="786.4" width="5.3" height="3.6"/>
<rect x="529.7" y="793.3" width="3.6" height="4.3"/>
<rect x="496.1" y="801.3" width="4.9" height="2.7"/>
<rect x="502.9" y="800.6" width="2.0" height="3.3"/>
<rect x="501.7" y="807.1" width="2.7" height="3.3"/>
<rect x="501.9" y="812.0" width="3.0" height="2.3"/>
<rect x="461.3" y="807.9" width="1.7" height="1.7"/>
<rect x="464.6" y="794.8" width="2.3" height="2.7"/>
<rect x="467.8" y="796.3" width="4.9" height="4.0" transform="rotate(10 470.3 798.2)"/>
<rect x="467.0" y="801.3" width="4.9" height="3.0" transform="rotate(10 469.5 802.8)"/>
<rect x="465.5" y="807.6" width="4.6" height="3.3"/>
<rect x="463.9" y="811.8" width="5.3" height="2.7"/>
<rect x="463.3" y="815.3" width="1.7" height="1.7"/>
<rect x="483.6" y="797.2" width="4.9" height="3.6" transform="rotate(10 486.0 799.1)"/>
<rect x="479.3" y="800.2" width="4.6" height="3.3" transform="rotate(20 481.7 801.8)"/>
<rect x="477.1" y="803.7" width="4.9" height="3.0" transform="rotate(20 479.5 805.2)"/>
<rect x="475.1" y="807.0" width="4.0" height="3.6" transform="rotate(20 477.1 808.8)"/>
<rect x="474.0" y="810.9" width="4.0" height="3.0" transform="rotate(20 476.0 812.4)"/>
<rect x="472.9" y="814.4" width="3.6" height="2.3"/>
<rect x="487.6" y="802.4" width="4.3" height="3.0" transform="rotate(15 489.8 803.9)"/>
<rect x="492.2" y="805.5" width="3.0" height="2.7"/>
<rect x="486.0" y="807.8" width="4.3" height="3.0" transform="rotate(15 488.1 809.3)"/>
<rect x="482.9" y="806.7" width="2.3" height="2.7"/>
<rect x="480.2" y="810.2" width="3.6" height="5.9" transform="rotate(10 482.0 813.2)"/>
<rect x="485.4" y="811.2" width="3.0" height="4.3" transform="rotate(10 486.9 813.3)"/>
<rect x="490.5" y="811.7" width="4.6" height="4.9"/>
<rect x="482.8" y="816.6" width="4.9" height="3.0"/>
<rect x="478.2" y="817.2" width="2.7" height="2.7"/>
<rect x="418.6" y="688.5" width="2.3" height="3.6" transform="rotate(-30 419.8 690.3)"/>
<rect x="426.4" y="685.5" width="4.0" height="2.0" transform="rotate(-30 428.4 686.6)"/>
<rect x="341.1" y="796.2" width="5.6" height="3.0" transform="rotate(-20 343.9 797.7)"/>
<rect x="349.5" y="794.3" width="5.6" height="3.5" transform="rotate(-20 352.3 796.1)"/>
<rect x="350.2" y="799.5" width="5.6" height="3.5" transform="rotate(-20 353.0 801.3)"/>
<rect x="360.3" y="804.2" width="3.5" height="2.0" transform="rotate(-25 362.1 805.2)"/>
<rect x="359.4" y="806.8" width="3.5" height="2.0" transform="rotate(-25 361.2 807.8)"/>
<rect x="341.1" y="812.9" width="5.6" height="3.3" transform="rotate(-20 343.9 814.5)"/>
<rect x="378.4" y="794.6" width="4.3" height="4.3" transform="rotate(-35 380.5 796.8)"/>
<rect x="378.4" y="807.5" width="3.3" height="3.0" transform="rotate(-15 380.0 809.0)"/>
<rect x="380.6" y="814.6" width="5.3" height="3.3" transform="rotate(-20 383.2 816.2)"/>
<rect x="382.0" y="819.5" width="5.6" height="2.5" transform="rotate(-20 384.8 820.8)"/>
<rect x="420.7" y="837.9" width="2.2" height="2.0"/>
<rect x="415.9" y="841.1" width="4.0" height="2.7" transform="rotate(25 417.9 842.5)"/>
<rect x="406.4" y="840.7" width="4.0" height="2.7" transform="rotate(25 408.4 842.1)"/>
<rect x="411.6" y="846.8" width="3.0" height="2.2" transform="rotate(20 413.1 847.9)"/>
<rect x="426.0" y="843.8" width="2.7" height="2.5"/>
<rect x="416.6" y="853.7" width="2.7" height="2.2"/>
<rect x="416.0" y="858.9" width="3.8" height="2.2" transform="rotate(20 417.9 860.0)"/>
<rect x="425.3" y="838.1" width="4.8" height="2.7" transform="rotate(10 427.7 839.5)"/>
<rect x="431.5" y="839.9" width="2.7" height="1.7"/>
<rect x="434.6" y="840.1" width="4.3" height="2.2" transform="rotate(10 436.8 841.2)"/>
<rect x="428.4" y="849.0" width="3.3" height="2.5" transform="rotate(20 430.0 850.3)"/>
<rect x="427.2" y="852.3" width="4.8" height="3.0" transform="rotate(20 429.6 853.8)"/>
<rect x="429.4" y="861.1" width="5.6" height="3.0" transform="rotate(15 432.2 862.6)"/>
<rect x="425.6" y="859.2" width="2.2" height="3.0" transform="rotate(10 426.8 860.6)"/>
<rect x="422.9" y="859.4" width="1.7" height="2.5"/>
<rect x="421.5" y="864.1" width="2.5" height="3.5" transform="rotate(10 422.7 865.8)"/>
<rect x="425.3" y="866.0" width="1.7" height="2.2"/>
<rect x="432.8" y="865.6" width="2.7" height="3.0" transform="rotate(10 434.2 867.1)"/>
<rect x="421.5" y="868.8" width="2.0" height="2.7"/>
<rect x="427.3" y="869.7" width="2.5" height="2.7"/>
<rect x="432.4" y="870.1" width="2.7" height="2.7" transform="rotate(20 433.8 871.4)"/>
<rect x="424.6" y="873.6" width="4.8" height="4.0" transform="rotate(10 427.0 875.6)"/>
<rect x="431.7" y="872.8" width="2.2" height="3.0" transform="rotate(20 432.9 874.3)"/>
<rect x="463.4" y="819.9" width="4.3" height="2.7"/>
<rect x="471.7" y="819.5" width="3.5" height="2.2"/>
<rect x="486.0" y="819.0" width="2.7" height="2.0"/>
<rect x="490.8" y="821.9" width="4.3" height="3.3"/>
<rect x="485.3" y="822.9" width="4.3" height="2.5"/>
<rect x="475.0" y="823.3" width="6.1" height="3.8"/>
<rect x="470.7" y="823.7" width="2.7" height="2.2"/>
<rect x="462.5" y="825.4" width="4.3" height="2.7"/>
<rect x="484.6" y="826.9" width="4.3" height="2.2"/>
<rect x="476.4" y="828.0" width="4.3" height="2.2"/>
<rect x="469.2" y="828.1" width="4.0" height="2.5"/>
<rect x="476.8" y="831.1" width="4.3" height="2.5"/>
<rect x="482.8" y="832.5" width="4.0" height="2.7"/>
<rect x="489.9" y="833.2" width="3.5" height="2.7"/>
<rect x="481.2" y="835.5" width="3.3" height="2.0"/>
<rect x="468.4" y="833.2" width="5.1" height="2.7"/>
<rect x="458.9" y="833.7" width="5.1" height="3.0"/>
<rect x="474.7" y="841.3" width="3.8" height="2.5" transform="rotate(20 476.6 842.6)"/>
<rect x="474.0" y="844.6" width="2.7" height="3.3" transform="rotate(20 475.3 846.2)"/>
<rect x="482.9" y="847.4" width="4.3" height="3.3"/>
<rect x="476.0" y="853.8" width="3.3" height="1.7"/>
<rect x="476.7" y="857.8" width="3.3" height="3.5" transform="rotate(15 478.3 859.6)"/>
<rect x="474.9" y="860.9" width="1.7" height="1.7"/>
<rect x="483.6" y="858.1" width="3.0" height="3.5"/>
<rect x="487.9" y="858.2" width="3.0" height="3.3"/>
<rect x="492.4" y="857.2" width="3.5" height="4.0"/>
<rect x="496.9" y="857.4" width="4.3" height="4.3"/>
<rect x="501.6" y="855.1" width="4.0" height="4.3"/>
<rect x="507.9" y="857.2" width="2.5" height="4.8" transform="rotate(-10 509.1 859.6)"/>
<rect x="474.6" y="869.0" width="3.0" height="5.1"/>
<rect x="477.3" y="868.3" width="3.3" height="2.5"/>
<rect x="481.9" y="869.0" width="2.7" height="3.0"/>
<rect x="487.7" y="869.1" width="3.3" height="3.0"/>
<rect x="492.5" y="869.0" width="4.0" height="3.0"/>
<rect x="498.4" y="869.0" width="2.7" height="3.0"/>
<rect x="505.1" y="869.4" width="4.8" height="2.5" transform="rotate(-25 507.5 870.6)"/>
<rect x="495.6" y="874.8" width="2.2" height="2.0"/>
<rect x="502.1" y="875.1" width="2.2" height="2.0"/>
<rect x="512.7" y="878.9" width="2.2" height="2.7"/>
<rect x="503.6" y="881.9" width="2.2" height="2.7"/>
<rect x="474.1" y="876.9" width="2.7" height="4.0"/>
<rect x="478.4" y="878.6" width="3.8" height="4.0"/>
<rect x="483.8" y="879.0" width="3.3" height="3.8"/>
<rect x="489.2" y="879.5" width="3.5" height="4.3" transform="rotate(15 490.9 881.7)"/>
<rect x="488.4" y="884.6" width="3.3" height="4.3" transform="rotate(10 490.0 886.7)"/>
<rect x="481.6" y="887.7" width="3.8" height="4.6" transform="rotate(-15 483.5 890.0)"/>
<rect x="485.8" y="888.9" width="3.3" height="3.8" transform="rotate(-10 487.4 890.8)"/>
<rect x="489.5" y="890.8" width="2.2" height="3.8" transform="rotate(-10 490.6 892.7)"/>
<rect x="481.1" y="894.4" width="3.5" height="4.8"/>
<rect x="486.2" y="895.7" width="3.8" height="4.3"/>
<rect x="492.5" y="897.8" width="3.5" height="3.3"/>
<rect x="474.3" y="902.9" width="5.3" height="2.7" transform="rotate(-30 477.0 904.3)"/>
<rect x="468.8" y="903.9" width="3.5" height="2.0" transform="rotate(-15 470.5 904.9)"/>
<rect x="466.2" y="909.8" width="4.8" height="2.7"/>
<rect x="437.9" y="899.0" width="5.1" height="6.1"/>
<rect x="452.5" y="900.9" width="3.5" height="2.7"/>
<rect x="444.3" y="904.1" width="5.6" height="2.0" transform="rotate(-10 447.1 905.0)"/>
<rect x="451.7" y="905.4" width="3.8" height="3.3"/>
<rect x="456.7" y="905.5" width="3.5" height="2.2"/>
<rect x="438.8" y="907.4" width="3.3" height="4.8"/>
<rect x="444.1" y="909.5" width="4.8" height="2.0"/>
<rect x="451.2" y="909.9" width="4.8" height="3.0"/>
<rect x="460.2" y="908.1" width="2.5" height="1.7"/>
<rect x="458.6" y="912.2" width="4.3" height="2.5"/>
<rect x="443.7" y="914.4" width="4.3" height="2.5"/>
<rect x="449.9" y="915.4" width="4.8" height="2.7"/>
<rect x="458.0" y="915.7" width="3.0" height="2.0"/>
<rect x="439.8" y="917.0" width="3.0" height="3.3"/>
<rect x="458.0" y="919.0" width="2.5" height="2.0"/>
<rect x="450.2" y="920.0" width="4.3" height="2.5"/>
<rect x="444.7" y="920.9" width="2.2" height="2.0"/>
<rect x="416.7" y="880.0" width="4.2" height="2.2" transform="rotate(10 418.8 881.1)"/>
<rect x="427.1" y="879.9" width="3.8" height="3.3" transform="rotate(10 429.0 881.6)"/>
<rect x="423.7" y="880.8" width="1.5" height="2.2"/>
<rect x="425.8" y="883.8" width="1.8" height="1.8"/>
<rect x="428.9" y="884.1" width="2.0" height="2.0"/>
<rect x="414.2" y="884.4" width="3.1" height="1.8" transform="rotate(20 415.8 885.3)"/>
<rect x="416.7" y="885.9" width="4.2" height="2.9" transform="rotate(20 418.8 887.3)"/>
<rect x="421.8" y="886.1" width="2.0" height="1.8"/>
<rect x="424.8" y="887.4" width="3.3" height="1.8" transform="rotate(20 426.5 888.3)"/>
<rect x="411.7" y="890.1" width="2.7" height="3.1" transform="rotate(20 413.0 891.7)"/>
<rect x="416.9" y="891.7" width="4.9" height="2.9" transform="rotate(-20 419.4 893.2)"/>
<rect x="419.4" y="889.8" width="4.5" height="2.2" transform="rotate(20 421.6 890.9)"/>
<rect x="426.7" y="890.6" width="2.2" height="1.8"/>
<rect x="425.9" y="893.6" width="3.1" height="2.4"/>
<rect x="433.8" y="893.1" width="3.8" height="2.4"/>
<rect x="408.4" y="901.4" width="3.3" height="4.9" transform="rotate(-20 410.1 903.9)"/>
<rect x="422.9" y="898.6" width="4.9" height="3.1"/>
<rect x="431.5" y="899.8" width="2.9" height="3.6"/>
<rect x="419.0" y="901.6" width="2.4" height="3.3"/>
<rect x="423.1" y="905.0" width="3.8" height="2.2"/>
<rect x="430.6" y="905.0" width="5.8" height="2.2"/>
<rect x="417.7" y="906.8" width="2.2" height="4.2"/>
<rect x="422.6" y="909.1" width="4.9" height="2.4"/>
<rect x="430.2" y="908.8" width="4.9" height="3.1"/>
<rect x="421.4" y="914.6" width="5.4" height="3.3"/>
<rect x="433.7" y="914.0" width="4.5" height="3.3"/>
<rect x="435.0" y="918.1" width="4.9" height="2.4"/>
<rect x="424.0" y="919.0" width="3.1" height="2.4"/>
<rect x="420.5" y="920.2" width="2.7" height="3.8"/>
<rect x="505.4" y="368.7" width="3.0" height="1.7" transform="rotate(40 506.9 369.5)"/>
<rect x="509.0" y="370.1" width="2.3" height="3.2" transform="rotate(20 510.2 371.7)"/>
<rect x="512.2" y="370.9" width="2.3" height="3.0" transform="rotate(20 513.4 372.4)"/>
<rect x="515.1" y="373.5" width="1.9" height="1.5" transform="rotate(30 516.1 374.2)"/>
<rect x="517.0" y="376.5" width="2.6" height="1.9" transform="rotate(30 518.3 377.4)"/>
<rect x="503.9" y="377.9" width="2.1" height="1.9"/>
<rect x="510.5" y="376.7" width="1.9" height="3.2" transform="rotate(25 511.5 378.3)"/>
<rect x="521.0" y="370.2" width="4.3" height="3.0" transform="rotate(5 523.1 371.7)"/>
<rect x="520.0" y="378.8" width="5.2" height="3.4" transform="rotate(5 522.6 380.5)"/>
<rect x="535.9" y="364.8" width="8.0" height="3.6" transform="rotate(10 539.9 366.6)"/>
<rect x="536.7" y="368.7" width="3.2" height="2.3"/>
<rect x="541.3" y="369.9" width="1.5" height="1.5"/>
<rect x="535.1" y="374.8" width="6.9" height="4.3" transform="rotate(15 538.5 376.9)"/>
<rect x="534.8" y="380.3" width="1.5" height="1.9"/>
<rect x="541.7" y="381.8" width="5.2" height="3.2" transform="rotate(15 544.2 383.4)"/>
<rect x="533.9" y="383.7" width="5.6" height="3.6" transform="rotate(15 536.7 385.6)"/>
<rect x="533.5" y="388.8" width="5.2" height="3.6" transform="rotate(15 536.1 390.6)"/>
<rect x="541.1" y="389.7" width="1.9" height="1.9"/>
<rect x="533.2" y="394.0" width="5.8" height="3.6" transform="rotate(15 536.1 395.8)"/>
<rect x="548.3" y="368.2" width="4.3" height="2.3"/>
<rect x="549.6" y="374.9" width="1.9" height="1.9"/>
<rect x="555.6" y="370.2" width="3.6" height="7.3" transform="rotate(15 557.4 373.9)"/>
<rect x="573.9" y="381.6" width="5.2" height="5.2" transform="rotate(30 576.5 384.2)"/>
<rect x="568.6" y="383.0" width="3.6" height="3.0" transform="rotate(30 570.4 384.5)"/>
<rect x="559.7" y="386.2" width="3.0" height="1.5" transform="rotate(30 561.2 387.0)"/>
<rect x="563.5" y="388.7" width="2.6" height="3.4" transform="rotate(30 564.8 390.4)"/>
<rect x="565.9" y="392.3" width="3.6" height="2.1" transform="rotate(30 567.7 393.4)"/>
<rect x="549.1" y="383.4" width="2.8" height="3.2" transform="rotate(25 550.5 385.0)"/>
<rect x="547.9" y="386.6" width="2.3" height="2.3" transform="rotate(25 549.1 387.7)"/>
<rect x="546.9" y="389.0" width="2.3" height="2.1" transform="rotate(25 548.0 390.1)"/>
<rect x="545.9" y="391.4" width="2.8" height="2.3" transform="rotate(25 547.3 392.6)"/>
<rect x="544.0" y="394.9" width="5.2" height="3.4" transform="rotate(20 546.6 396.6)"/>
<rect x="555.6" y="393.2" width="4.3" height="2.6" transform="rotate(25 557.8 394.4)"/>
<rect x="564.4" y="396.3" width="3.4" height="1.9" transform="rotate(25 566.1 397.3)"/>
<rect x="555.9" y="398.6" width="2.6" height="2.1" transform="rotate(25 557.2 399.6)"/>
<rect x="561.5" y="400.2" width="3.4" height="2.1" transform="rotate(25 563.2 401.3)"/>
<rect x="553.6" y="402.1" width="4.7" height="3.6" transform="rotate(25 555.9 404.0)"/>
<rect x="560.8" y="404.3" width="3.6" height="4.3" transform="rotate(30 562.6 406.5)"/>
<rect x="551.1" y="406.8" width="3.6" height="2.3" transform="rotate(25 552.9 408.0)"/>
<rect x="557.5" y="408.7" width="2.8" height="2.3" transform="rotate(25 558.9 409.9)"/>
<rect x="548.9" y="410.5" width="3.6" height="2.1" transform="rotate(25 550.7 411.5)"/>
<rect x="551.6" y="411.7" width="3.0" height="1.9" transform="rotate(25 553.1 412.6)"/>
<rect x="548.4" y="413.6" width="3.6" height="2.8" transform="rotate(25 550.2 415.0)"/>
<rect x="554.9" y="416.2" width="4.7" height="3.6" transform="rotate(25 557.2 418.0)"/>
<rect x="553.2" y="420.2" width="3.6" height="2.1" transform="rotate(25 555.1 421.3)"/>
<rect x="551.6" y="422.9" width="4.3" height="3.2" transform="rotate(25 553.8 424.5)"/>
<rect x="539.4" y="442.4" width="2.8" height="3.2" transform="rotate(20 540.8 444.0)"/>
<rect x="534.8" y="443.8" width="3.2" height="3.0" transform="rotate(20 536.5 445.3)"/>
<rect x="543.6" y="446.8" width="2.3" height="3.0" transform="rotate(20 544.8 448.3)"/>
<rect x="520.1" y="388.1" width="4.3" height="3.6" transform="rotate(20 522.3 389.9)"/>
<rect x="518.9" y="393.6" width="4.1" height="3.0" transform="rotate(25 521.0 395.1)"/>
<rect x="516.1" y="446.2" width="4.3" height="3.2" transform="rotate(20 518.3 447.8)"/>
<rect x="439.0" y="759.4" width="4.7" height="4.7" transform="rotate(25 441.4 761.7)"/>
<rect x="450.2" y="764.0" width="5.6" height="4.2" transform="rotate(30 453.0 766.1)"/>
<rect x="456.0" y="758.9" width="3.5" height="4.7" transform="rotate(15 457.7 761.3)"/>
<rect x="436.5" y="766.5" width="3.5" height="2.7" transform="rotate(25 438.2 767.8)"/>
<rect x="441.1" y="768.0" width="1.3" height="1.3"/>
<rect x="420.1" y="767.2" width="2.5" height="2.1" transform="rotate(40 421.4 768.2)"/>
<rect x="423.1" y="770.3" width="2.1" height="2.0" transform="rotate(40 424.1 771.3)"/>
<rect x="423.1" y="774.8" width="3.9" height="2.5" transform="rotate(40 425.0 776.0)"/>
<rect x="416.8" y="773.0" width="2.1" height="4.2" transform="rotate(-30 417.9 775.2)"/>
<rect x="420.1" y="773.0" width="1.6" height="1.8" transform="rotate(-35 420.9 773.9)"/>
<rect x="445.0" y="772.9" width="3.0" height="2.8" transform="rotate(30 446.5 774.3)"/>
<rect x="440.4" y="775.4" width="3.5" height="3.0" transform="rotate(30 442.1 776.9)"/>
<rect x="443.8" y="777.4" width="2.7" height="2.5" transform="rotate(30 445.2 778.6)"/>
<rect x="448.4" y="778.4" width="4.2" height="3.0" transform="rotate(-20 450.5 779.9)"/>
<rect x="439.5" y="780.1" width="1.8" height="1.3" transform="rotate(-40 440.4 780.8)"/>
<rect x="437.1" y="782.7" width="1.8" height="1.4" transform="rotate(-40 438.0 783.4)"/>
<rect x="447.9" y="784.1" width="1.4" height="2.0"/>
<rect x="442.3" y="787.1" width="10.1" height="7.7" transform="rotate(8 447.3 790.9)"/>
<rect x="394.8" y="772.8" width="3.0" height="2.7" transform="rotate(40 396.3 774.1)"/>
<rect x="398.4" y="774.8" width="1.8" height="1.6" transform="rotate(40 399.3 775.6)"/>
<rect x="400.1" y="776.1" width="1.8" height="1.6" transform="rotate(40 401.0 776.9)"/>
<rect x="393.2" y="778.6" width="2.7" height="2.3" transform="rotate(40 394.5 779.7)"/>
<rect x="395.6" y="780.6" width="2.1" height="2.1" transform="rotate(40 396.7 781.6)"/>
<rect x="394.8" y="785.0" width="3.0" height="1.6" transform="rotate(-35 396.3 785.8)"/>
<rect x="397.6" y="778.7" width="1.6" height="1.6"/>
<rect x="398.9" y="782.1" width="3.0" height="2.3" transform="rotate(-35 400.4 783.2)"/>
<rect x="401.9" y="777.7" width="3.5" height="3.0" transform="rotate(-35 403.6 779.2)"/>
<rect x="404.1" y="776.9" width="1.6" height="1.6"/>
<rect x="407.3" y="775.2" width="3.0" height="3.9" transform="rotate(-30 408.8 777.1)"/>
<rect x="409.7" y="772.8" width="2.5" height="3.0" transform="rotate(-30 411.0 774.3)"/>
<rect x="405.0" y="786.4" width="2.1" height="2.1" transform="rotate(40 406.0 787.4)"/>
<rect x="401.5" y="786.9" width="2.5" height="2.0" transform="rotate(-35 402.7 787.9)"/>
<rect x="407.6" y="784.0" width="1.6" height="1.4" transform="rotate(-35 408.4 784.7)"/>
<rect x="409.9" y="782.2" width="1.6" height="1.4" transform="rotate(-35 410.7 782.9)"/>
<rect x="412.1" y="780.2" width="1.8" height="1.6" transform="rotate(-35 413.0 781.0)"/>
<rect x="414.2" y="777.5" width="2.7" height="3.0" transform="rotate(-35 415.5 779.0)"/>
<rect x="399.5" y="791.0" width="3.9" height="3.0" transform="rotate(-35 401.5 792.5)"/>
<rect x="402.5" y="794.5" width="3.5" height="2.3" transform="rotate(-35 404.2 795.7)"/>
<rect x="407.7" y="793.2" width="3.5" height="2.8" transform="rotate(-35 409.5 794.6)"/>
<rect x="411.2" y="791.1" width="3.0" height="2.7" transform="rotate(-35 412.7 792.5)"/>
<rect x="414.0" y="788.5" width="3.5" height="2.7" transform="rotate(-35 415.7 789.9)"/>
<rect x="416.8" y="783.6" width="3.0" height="3.0" transform="rotate(-35 418.3 785.1)"/>
<rect x="418.9" y="780.9" width="3.5" height="3.5" transform="rotate(-35 420.7 782.7)"/>
<rect x="408.3" y="798.2" width="2.1" height="2.3" transform="rotate(40 409.4 799.4)"/>
<rect x="410.3" y="801.2" width="1.8" height="1.6" transform="rotate(40 411.1 802.0)"/>
<rect x="388.3" y="792.1" width="3.0" height="2.5" transform="rotate(-35 389.8 793.3)"/>
<rect x="389.1" y="794.3" width="4.7" height="3.9" transform="rotate(-35 391.5 796.2)"/>
<rect x="400.8" y="804.8" width="3.9" height="4.7" transform="rotate(25 402.7 807.2)"/>
<rect x="413.1" y="803.9" width="3.9" height="2.3" transform="rotate(30 415.0 805.0)"/>
<rect x="415.3" y="800.3" width="3.5" height="2.5" transform="rotate(30 417.0 801.6)"/>
<rect x="417.6" y="796.9" width="3.5" height="2.5" transform="rotate(30 419.4 798.1)"/>
<rect x="419.4" y="793.3" width="3.0" height="2.7" transform="rotate(30 420.9 794.6)"/>
<rect x="435.7" y="786.4" width="3.9" height="3.5" transform="rotate(30 437.6 788.1)"/>
<rect x="433.5" y="789.4" width="3.5" height="3.0" transform="rotate(30 435.2 790.9)"/>
<rect x="430.9" y="793.5" width="3.5" height="2.3" transform="rotate(30 432.6 794.6)"/>
<rect x="428.5" y="797.3" width="3.9" height="2.5" transform="rotate(30 430.5 798.5)"/>
<rect x="434.5" y="797.9" width="2.3" height="3.0" transform="rotate(20 435.6 799.4)"/>
<rect x="431.5" y="802.3" width="1.4" height="1.4"/>
<rect x="438.9" y="798.3" width="3.9" height="2.5"/>
<rect x="446.7" y="798.8" width="2.1" height="1.6" transform="rotate(30 447.8 799.6)"/>
<rect x="445.1" y="801.6" width="3.5" height="1.6" transform="rotate(30 446.9 802.4)"/>
<rect x="440.2" y="803.1" width="3.0" height="3.0" transform="rotate(10 441.7 804.6)"/>
<rect x="435.8" y="804.8" width="2.3" height="2.1"/>
<rect x="434.9" y="808.4" width="3.5" height="2.5" transform="rotate(20 436.7 809.6)"/>
<rect x="439.7" y="806.8" width="1.4" height="1.6"/>
<rect x="445.6" y="807.6" width="3.5" height="3.0" transform="rotate(20 447.3 809.1)"/>
<rect x="442.8" y="812.4" width="4.2" height="3.0" transform="rotate(15 444.9 813.9)"/>
<rect x="437.8" y="814.9" width="4.7" height="2.8" transform="rotate(25 440.2 816.3)"/>
<rect x="434.0" y="813.0" width="2.1" height="1.6" transform="rotate(30 435.0 813.9)"/>
<rect x="424.4" y="800.9" width="3.5" height="2.5" transform="rotate(30 426.1 802.2)"/>
<rect x="427.4" y="803.8" width="3.5" height="2.5" transform="rotate(30 429.2 805.0)"/>
<rect x="422.0" y="805.0" width="2.1" height="2.7" transform="rotate(30 423.1 806.3)"/>
<rect x="424.5" y="806.7" width="2.3" height="3.5" transform="rotate(30 425.7 808.5)"/>
<rect x="426.8" y="810.3" width="1.6" height="1.6"/>
<rect x="429.4" y="810.9" width="3.0" height="3.0" transform="rotate(30 430.9 812.4)"/>
<rect x="456.2" y="794.1" width="3.9" height="2.8"/>
<rect x="456.7" y="798.1" width="3.5" height="2.7"/>
<rect x="455.8" y="801.2" width="3.9" height="4.2" transform="rotate(10 457.7 803.3)"/>
<rect x="454.3" y="805.9" width="5.1" height="3.0" transform="rotate(10 456.9 807.4)"/>
<rect x="451.7" y="813.8" width="4.2" height="2.7"/>
<rect x="451.9" y="816.9" width="3.9" height="2.0"/>
<rect x="458.0" y="819.1" width="2.7" height="1.8"/>
<rect x="450.2" y="823.7" width="2.1" height="1.6"/>
<rect x="450.2" y="826.7" width="2.1" height="1.3"/>
<rect x="454.1" y="824.6" width="5.6" height="3.0"/>
<rect x="450.9" y="829.9" width="4.2" height="3.9"/>
<rect x="450.6" y="834.0" width="4.7" height="3.5"/>
<rect x="455.8" y="835.0" width="2.1" height="2.5"/>
<rect x="383.9" y="807.3" width="3.9" height="1.8" transform="rotate(-15 385.9 808.2)"/>
<rect x="390.7" y="808.0" width="3.9" height="1.8" transform="rotate(-10 392.6 808.9)"/>
<rect x="388.4" y="812.6" width="5.2" height="3.5" transform="rotate(-10 391.1 814.4)"/>
<rect x="384.6" y="813.9" width="1.6" height="3.0" transform="rotate(-15 385.4 815.4)"/>
<rect x="389.6" y="817.3" width="4.4" height="2.3" transform="rotate(-20 391.8 818.4)"/>
<rect x="384.5" y="819.3" width="3.5" height="2.7" transform="rotate(-20 386.3 820.6)"/>
<rect x="384.4" y="827.5" width="4.7" height="1.8" transform="rotate(-20 386.7 828.4)"/>
<rect x="388.7" y="828.6" width="3.0" height="3.0" transform="rotate(-20 390.2 830.1)"/>
<rect x="406.4" y="810.2" width="3.0" height="3.5" transform="rotate(25 407.9 811.9)"/>
<rect x="411.4" y="811.1" width="3.5" height="3.5" transform="rotate(25 413.1 812.8)"/>
<rect x="416.1" y="813.3" width="1.8" height="1.6"/>
<rect x="418.3" y="813.9" width="3.5" height="3.9" transform="rotate(20 420.1 815.8)"/>
<rect x="402.0" y="816.1" width="7.0" height="3.0" transform="rotate(30 405.5 817.6)"/>
<rect x="410.1" y="816.9" width="2.7" height="3.0" transform="rotate(20 411.4 818.4)"/>
<rect x="416.1" y="818.1" width="3.5" height="1.6" transform="rotate(20 417.9 818.9)"/>
<rect x="405.1" y="813.7" width="3.0" height="1.6" transform="rotate(25 406.6 814.5)"/>
<rect x="425.1" y="818.1" width="2.1" height="2.8"/>
<rect x="416.1" y="821.7" width="3.5" height="3.0" transform="rotate(-30 417.9 823.2)"/>
<rect x="419.9" y="822.8" width="3.0" height="2.5" transform="rotate(-30 421.4 824.1)"/>
<rect x="411.2" y="824.5" width="3.9" height="3.5" transform="rotate(-40 413.1 826.2)"/>
<rect x="406.9" y="828.2" width="4.7" height="3.9" transform="rotate(-40 409.2 830.1)"/>
<rect x="414.8" y="827.5" width="1.8" height="1.8"/>
<rect x="418.7" y="828.5" width="1.8" height="1.6"/>
<rect x="420.7" y="826.8" width="4.7" height="2.7" transform="rotate(5 423.1 828.1)"/>
<rect x="418.7" y="831.0" width="3.5" height="1.8" transform="rotate(25 420.5 831.9)"/>
<rect x="415.7" y="832.9" width="5.2" height="2.3" transform="rotate(25 418.3 834.0)"/>
<rect x="414.2" y="836.4" width="3.9" height="2.1" transform="rotate(20 416.2 837.5)"/>
<rect x="421.0" y="835.4" width="2.5" height="1.6" transform="rotate(25 422.2 836.2)"/>
<rect x="430.0" y="818.0" width="3.5" height="3.9" transform="rotate(5 431.8 819.9)"/>
<rect x="433.5" y="818.7" width="3.0" height="3.9" transform="rotate(5 435.0 820.6)"/>
<rect x="436.7" y="819.7" width="2.7" height="3.5" transform="rotate(5 438.0 821.5)"/>
<rect x="440.6" y="821.2" width="5.2" height="3.5" transform="rotate(10 443.2 822.9)"/>
<rect x="429.8" y="823.3" width="5.2" height="2.5" transform="rotate(10 432.4 824.5)"/>
<rect x="429.5" y="825.4" width="4.2" height="1.6" transform="rotate(10 431.6 826.2)"/>
<rect x="429.2" y="827.2" width="4.2" height="1.6" transform="rotate(10 431.3 828.0)"/>
<rect x="429.0" y="829.0" width="4.2" height="1.6" transform="rotate(10 431.1 829.8)"/>
<rect x="435.9" y="825.2" width="2.1" height="3.9"/>
<rect x="440.2" y="824.7" width="2.1" height="2.1"/>
<rect x="440.7" y="827.8" width="4.2" height="3.0" transform="rotate(10 442.8 829.3)"/>
<rect x="436.1" y="831.2" width="5.2" height="2.1" transform="rotate(10 438.7 832.3)"/>
<rect x="429.8" y="831.3" width="3.0" height="2.5" transform="rotate(30 431.3 832.6)"/>
<rect x="428.5" y="833.7" width="3.0" height="2.5" transform="rotate(10 430.0 834.9)"/>
<rect x="433.6" y="833.1" width="3.5" height="3.0" transform="rotate(10 435.4 834.6)"/>
<rect x="438.7" y="834.9" width="3.5" height="2.7"/>
<rect x="442.8" y="832.4" width="2.1" height="2.5"/>
<rect x="432.9" y="836.7" width="3.9" height="2.1"/>
<rect x="426.8" y="836.2" width="3.0" height="1.8" transform="rotate(-30 428.3 837.1)"/>
<rect x="437.4" y="837.4" width="5.2" height="3.3" transform="rotate(10 440.0 839.1)"/>
<rect x="437.9" y="841.9" width="4.2" height="2.7" transform="rotate(15 440.0 843.2)"/>
<rect x="439.6" y="845.0" width="1.8" height="1.6"/>
<rect x="434.9" y="847.0" width="4.2" height="2.8" transform="rotate(10 437.0 848.4)"/>
<rect x="434.0" y="850.5" width="4.7" height="2.8" transform="rotate(10 436.4 851.9)"/>
<rect x="433.9" y="854.5" width="4.4" height="2.5" transform="rotate(10 436.1 855.8)"/>
<rect x="436.1" y="858.2" width="2.1" height="2.1"/>
<rect x="450.8" y="838.1" width="1.8" height="1.6"/>
<rect x="449.8" y="840.7" width="2.1" height="1.6"/>
<rect x="449.1" y="842.9" width="2.7" height="2.3" transform="rotate(10 450.4 844.1)"/>
<rect x="448.2" y="846.8" width="3.5" height="2.3" transform="rotate(10 450.0 848.0)"/>
<rect x="447.2" y="850.6" width="3.9" height="2.5" transform="rotate(10 449.1 851.9)"/>
<rect x="444.5" y="853.7" width="5.8" height="5.6" transform="rotate(10 447.4 856.5)"/>
<rect x="445.2" y="859.9" width="5.2" height="3.0" transform="rotate(10 447.8 861.4)"/>
<rect x="442.4" y="864.0" width="5.6" height="3.5" transform="rotate(15 445.2 865.7)"/>
<rect x="440.4" y="866.7" width="1.8" height="1.6"/>
<rect x="442.1" y="869.2" width="4.2" height="2.7" transform="rotate(20 444.2 870.5)"/>
<rect x="440.7" y="872.5" width="3.9" height="2.5" transform="rotate(20 442.6 873.8)"/>
<rect x="437.8" y="875.1" width="3.5" height="3.0" transform="rotate(20 439.6 876.6)"/>
<rect x="438.8" y="878.6" width="4.2" height="2.3"/>
<rect x="437.7" y="882.5" width="4.7" height="2.8"/>
<rect x="437.7" y="886.7" width="3.9" height="2.1"/>
<rect x="442.7" y="887.9" width="2.1" height="2.1"/>
<rect x="437.6" y="890.4" width="1.4" height="1.8"/>
<rect x="439.0" y="893.8" width="2.1" height="1.8"/>
<rect x="443.9" y="895.2" width="2.7" height="2.8"/>
<rect x="455.6" y="838.0" width="1.8" height="1.8"/>
<rect x="459.6" y="837.7" width="4.2" height="2.3" transform="rotate(10 461.7 838.9)"/>
<rect x="457.1" y="840.6" width="4.7" height="3.5" transform="rotate(15 459.5 842.4)"/>
<rect x="455.8" y="844.3" width="4.7" height="3.0" transform="rotate(15 458.2 845.8)"/>
<rect x="455.2" y="848.5" width="4.2" height="2.5"/>
<rect x="454.1" y="854.6" width="3.9" height="2.3" transform="rotate(10 456.0 855.8)"/>
<rect x="458.2" y="857.7" width="1.8" height="3.0" transform="rotate(10 459.1 859.2)"/>
<rect x="457.2" y="862.1" width="1.6" height="2.1"/>
<rect x="454.7" y="866.1" width="3.5" height="2.5"/>
<rect x="449.8" y="865.1" width="3.0" height="3.9"/>
<rect x="451.9" y="871.3" width="5.2" height="2.8"/>
<rect x="446.7" y="874.1" width="3.0" height="1.8"/>
<rect x="451.7" y="874.9" width="3.0" height="1.6" transform="rotate(10 453.2 875.7)"/>
<rect x="450.8" y="879.8" width="3.5" height="3.0" transform="rotate(10 452.6 881.3)"/>
<rect x="447.2" y="881.8" width="1.6" height="1.3"/>
<rect x="449.6" y="883.4" width="3.3" height="2.0" transform="rotate(12 451.3 884.4)"/>
<rect x="448.6" y="885.9" width="3.7" height="2.1" transform="rotate(12 450.4 886.9)"/>
<rect x="448.0" y="888.4" width="3.3" height="2.0" transform="rotate(12 449.7 889.4)"/>
<rect x="449.0" y="890.9" width="3.7" height="2.1" transform="rotate(12 450.8 892.0)"/>
<rect x="447.6" y="893.6" width="3.5" height="2.0" transform="rotate(12 449.4 894.6)"/>
<rect x="447.9" y="896.3" width="3.0" height="1.8"/>
<rect x="461.9" y="866.8" width="4.2" height="2.1"/>
<rect x="461.0" y="869.3" width="4.7" height="2.3" transform="rotate(10 463.4 870.5)"/>
<rect x="460.3" y="872.4" width="5.2" height="2.3" transform="rotate(10 463.0 873.5)"/>
<rect x="459.9" y="875.6" width="5.2" height="2.5" transform="rotate(10 462.5 876.8)"/>
<rect x="459.0" y="878.9" width="5.2" height="2.3" transform="rotate(10 461.7 880.0)"/>
<rect x="459.6" y="882.3" width="4.2" height="2.0" transform="rotate(10 461.7 883.3)"/>
<rect x="461.6" y="886.1" width="1.8" height="1.3"/>
<rect x="457.9" y="887.9" width="4.0" height="2.5" transform="rotate(12 459.9 889.1)"/>
<rect x="456.6" y="890.7" width="4.0" height="2.5" transform="rotate(12 458.6 892.0)"/>
<rect x="455.7" y="893.7" width="3.7" height="2.1" transform="rotate(12 457.5 894.7)"/>
<rect x="455.2" y="896.2" width="3.3" height="2.0" transform="rotate(12 456.9 897.2)"/>
<rect x="453.9" y="898.4" width="3.3" height="1.6" transform="rotate(12 455.6 899.2)"/>
<rect x="468.7" y="837.5" width="3.9" height="2.3"/>
<rect x="465.8" y="843.5" width="4.7" height="3.0" transform="rotate(15 468.2 845.0)"/>
<rect x="464.2" y="849.8" width="3.9" height="2.1" transform="rotate(10 466.2 850.8)"/>
<rect x="472.0" y="849.5" width="1.8" height="1.8"/>
<rect x="465.4" y="853.4" width="2.1" height="1.6" transform="rotate(30 466.4 854.2)"/>
<rect x="467.1" y="855.4" width="3.0" height="1.2" transform="rotate(30 468.6 856.0)"/>
<rect x="471.0" y="854.3" width="2.1" height="1.6"/>
<rect x="470.0" y="856.9" width="4.2" height="2.7"/>
<rect x="463.2" y="857.9" width="3.5" height="2.1"/>
<rect x="462.8" y="862.2" width="3.0" height="1.8"/>
<rect x="471.0" y="861.2" width="2.7" height="3.9"/>
<rect x="471.2" y="870.1" width="3.2" height="4.2"/>
<rect x="468.7" y="876.6" width="4.6" height="2.8"/>
<rect x="467.3" y="882.9" width="4.7" height="2.1"/>
<rect x="473.0" y="883.0" width="2.5" height="3.5"/>
<rect x="465.4" y="886.7" width="4.7" height="2.3"/>
<rect x="464.5" y="889.1" width="4.7" height="2.7"/>
<rect x="471.0" y="888.2" width="3.0" height="1.8"/>
<rect x="464.7" y="895.2" width="5.2" height="3.9"/>
<rect x="461.3" y="897.0" width="2.5" height="3.9" transform="rotate(15 462.5 898.9)"/>
<rect x="471.6" y="897.4" width="3.5" height="2.1" transform="rotate(-20 473.4 898.5)"/>
<rect x="446.8" y="445.1" width="4.9" height="8.4" transform="rotate(18 449.3 449.3)"/>
<rect x="458.3" y="429.4" width="10.1" height="5.4" transform="rotate(25 463.3 432.1)"/>
<rect x="468.0" y="434.6" width="10.1" height="5.4" transform="rotate(27 473.1 437.3)"/>
<rect x="477.6" y="437.7" width="4.6" height="12.2" transform="rotate(18 479.8 443.8)"/>
<rect x="481.3" y="445.3" width="5.2" height="7.5" transform="rotate(18 483.9 449.0)"/>
<rect x="480.9" y="453.3" width="4.0" height="10.4" transform="rotate(18 482.9 458.5)"/>
<rect x="471.9" y="463.0" width="10.4" height="5.8" transform="rotate(22 477.2 465.9)"/>
<rect x="493.8" y="439.7" width="3.9" height="4.4" transform="rotate(25 495.8 441.9)"/>
<rect x="497.1" y="444.9" width="6.5" height="4.2" transform="rotate(25 500.4 447.0)"/>
<rect x="489.8" y="448.2" width="5.6" height="5.1" transform="rotate(15 492.6 450.7)"/>
<rect x="431.1" y="771.3" width="5.4" height="3.0" transform="rotate(35 433.8 772.8)"/>
<rect x="430.3" y="774.2" width="4.4" height="1.6" transform="rotate(35 432.5 775.0)"/>
<rect x="429.2" y="775.9" width="4.4" height="1.6" transform="rotate(35 431.4 776.7)"/>
<rect x="428.1" y="777.8" width="4.4" height="1.6" transform="rotate(35 430.3 778.6)"/>
<rect x="427.0" y="779.6" width="4.4" height="1.6" transform="rotate(35 429.2 780.4)"/>
<rect x="426.0" y="781.3" width="4.4" height="1.6" transform="rotate(35 428.2 782.1)"/>
<rect x="424.7" y="783.1" width="4.4" height="1.7" transform="rotate(35 426.9 784.0)"/>
<rect x="422.6" y="784.9" width="4.6" height="3.0" transform="rotate(35 424.9 786.4)"/>
<rect x="582.4" y="367.5" width="3.6" height="2.6" transform="rotate(25 584.2 368.8)"/>
<rect x="587.3" y="368.6" width="2.6" height="3.1" transform="rotate(20 588.6 370.1)"/>
<rect x="506.2" y="417.6" width="3.8" height="2.3" transform="rotate(30 508.1 418.8)"/>
<rect x="505.1" y="419.9" width="3.8" height="2.1" transform="rotate(30 507.0 421.0)"/>
<rect x="504.0" y="421.8" width="3.8" height="2.1" transform="rotate(30 506.0 422.9)"/>
<rect x="503.0" y="423.6" width="3.8" height="2.3" transform="rotate(30 504.9 424.8)"/>
<rect x="507.3" y="426.1" width="4.3" height="3.3" transform="rotate(30 509.5 427.7)"/>
<rect x="504.4" y="428.8" width="4.8" height="3.3" transform="rotate(30 506.8 430.4)"/>
<rect x="503.2" y="432.3" width="3.3" height="2.8" transform="rotate(30 504.9 433.7)"/>
<rect x="515.6" y="396.5" width="2.3" height="1.9" transform="rotate(30 516.8 397.4)"/>
<rect x="514.8" y="399.5" width="2.8" height="2.3" transform="rotate(30 516.2 400.7)"/>
<rect x="513.8" y="402.2" width="3.3" height="2.8" transform="rotate(30 515.4 403.7)"/>
<rect x="510.8" y="405.3" width="2.8" height="2.1" transform="rotate(30 512.2 406.4)"/>
<rect x="511.1" y="408.2" width="3.3" height="2.8" transform="rotate(30 512.7 409.6)"/>
<rect x="509.9" y="410.6" width="2.3" height="1.9" transform="rotate(30 511.1 411.5)"/>
<rect x="506.7" y="412.8" width="3.3" height="2.3" transform="rotate(30 508.4 413.9)"/>
<rect x="510.8" y="414.7" width="4.3" height="3.8" transform="rotate(30 513.0 416.6)"/>
<rect x="501.8" y="405.7" width="1.9" height="1.4"/>
<rect x="504.6" y="406.8" width="1.6" height="1.9"/>
<rect x="507.6" y="408.7" width="1.6" height="1.9"/>
<rect x="516.4" y="405.1" width="1.4" height="1.4"/>
<rect x="539.4" y="414.4" width="2.3" height="2.3" transform="rotate(30 540.6 415.6)"/>
<rect x="537.0" y="417.6" width="2.8" height="2.3" transform="rotate(30 538.4 418.8)"/>
<rect x="535.7" y="420.7" width="2.1" height="2.1" transform="rotate(30 536.8 421.8)"/>
<rect x="534.6" y="423.6" width="2.8" height="2.3" transform="rotate(30 536.0 424.8)"/>
<rect x="532.5" y="426.6" width="4.3" height="2.8" transform="rotate(30 534.6 428.0)"/>
<rect x="530.9" y="429.6" width="4.3" height="2.8" transform="rotate(30 533.0 431.0)"/>
<rect x="529.2" y="433.6" width="4.3" height="2.8" transform="rotate(30 531.4 435.0)"/>
<rect x="526.8" y="436.7" width="4.3" height="3.8" transform="rotate(30 529.0 438.6)"/>
<rect x="544.9" y="421.4" width="3.3" height="2.3" transform="rotate(30 546.5 422.6)"/>
<rect x="543.8" y="424.1" width="3.3" height="2.3" transform="rotate(30 545.5 425.3)"/>
<rect x="542.2" y="427.2" width="4.3" height="3.3" transform="rotate(30 544.4 428.8)"/>
<rect x="541.1" y="431.2" width="3.8" height="2.8" transform="rotate(30 543.0 432.6)"/>
<rect x="538.4" y="436.4" width="3.8" height="3.3" transform="rotate(30 540.3 438.0)"/>
<rect x="545.8" y="433.9" width="4.8" height="3.3" transform="rotate(25 548.2 435.6)"/>
<rect x="524.7" y="408.2" width="4.8" height="3.3" transform="rotate(15 527.1 409.9)"/>
<rect x="525.4" y="412.8" width="3.8" height="2.8" transform="rotate(15 527.3 414.2)"/>
<rect x="524.9" y="417.1" width="3.8" height="2.3" transform="rotate(15 526.8 418.3)"/>
<rect x="521.0" y="414.1" width="2.8" height="1.9" transform="rotate(15 522.5 415.0)"/>
<rect x="523.3" y="421.5" width="5.3" height="3.8" transform="rotate(20 526.0 423.4)"/>
<rect x="520.1" y="425.6" width="4.8" height="3.8" transform="rotate(25 522.5 427.5)"/>
<rect x="517.9" y="429.3" width="4.8" height="3.3" transform="rotate(25 520.3 431.0)"/>
<rect x="516.8" y="435.4" width="8.7" height="5.8" transform="rotate(15 521.1 438.3)"/>
<rect x="530.8" y="411.2" width="3.3" height="3.3" transform="rotate(15 532.5 412.9)"/>
<rect x="535.5" y="412.3" width="2.6" height="2.8" transform="rotate(15 536.8 413.7)"/>
<rect x="529.3" y="403.3" width="4.8" height="3.3" transform="rotate(20 531.7 405.0)"/>
<rect x="528.1" y="397.3" width="3.8" height="2.3" transform="rotate(25 530.0 398.5)"/>
<rect x="533.0" y="400.7" width="2.1" height="2.1"/>
<rect x="537.6" y="403.1" width="3.3" height="3.8" transform="rotate(20 539.2 405.0)"/>
<rect x="543.3" y="400.6" width="4.3" height="3.3" transform="rotate(25 545.5 402.3)"/>
<rect x="541.7" y="406.1" width="4.3" height="4.3" transform="rotate(20 543.8 408.3)"/>
</svg></body></html>
